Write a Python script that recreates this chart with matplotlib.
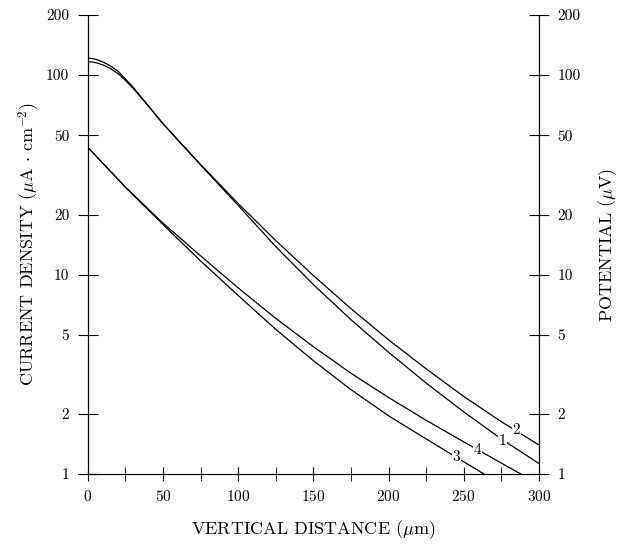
import matplotlib.pyplot as plt
from matplotlib.ticker import FixedLocator, NullFormatter

plt.rcParams["font.family"] = "cmr10"
plt.rcParams["mathtext.fontset"] = "cm"
plt.rcParams["axes.formatter.use_mathtext"] = True

# 곡선 데이터
x1 = [0, 5, 10, 15, 20, 25, 30, 38, 50, 75, 100, 125, 150, 175, 200, 225, 250, 275, 300]
y1 = [122, 120.2, 116.4, 111.2, 104.7, 95.7, 87.1, 73.5, 57.0,
      35.4, 22.2, 13.8, 8.91, 5.94, 4.08, 2.86, 2.05, 1.50, 1.13]
x2 = [0, 5, 10, 15, 20, 25, 30, 38, 50, 75, 100, 125, 150, 175, 200, 225, 250, 275, 300]
y2 = [117, 115.6, 112.5, 107.9, 101.9, 94.0, 85.9, 73.3, 57.0,
      35.6, 22.7, 14.8, 9.89, 6.75, 4.71, 3.37, 2.45, 1.83, 1.40]
x3 = [0, 25, 50, 75, 100, 125, 150, 175, 200, 225, 263.5]
y3 = [43.4, 27.4, 17.8, 11.7, 7.85, 5.31, 3.70, 2.65, 1.96, 1.50, 1.0]
x4 = [0, 25, 50, 75, 100, 125, 150, 175, 200, 225, 250, 288]
y4 = [43.4, 27.4, 18.1, 12.4, 8.57, 6.03, 4.35, 3.20, 2.42, 1.86, 1.45, 1.0]

yticks = [1, 2, 5, 10, 20, 50, 100, 200]
xticks = [0, 50, 100, 150, 200, 250, 300]
curve_labels = ["1", "2", "3", "4"]
label_pos = [(276, 1.47), (285, 1.66), (245, 1.21), (259, 1.31)]

fig = plt.figure(figsize=(6.28, 5.58), dpi=100)
ax = fig.add_axes([0.140, 0.1505, 0.718, 0.8225])

for xs, ys in [(x1, y1), (x2, y2), (x3, y3), (x4, y4)]:
    ax.plot(xs, ys, color="black", lw=0.9)

for t, (px, py) in zip(curve_labels, label_pos):
    ax.text(px, py, t, fontsize=11, ha="center", va="center",
            bbox=dict(facecolor="white", edgecolor="none", pad=0.5))

ax.set_yscale("log")
ax.set_xlim(0, 300)
ax.set_ylim(1, 200)
ax.spines["top"].set_visible(False)

ax.yaxis.set_major_locator(FixedLocator(yticks))
ax.yaxis.set_minor_locator(FixedLocator([]))
ax.set_yticklabels([str(v) for v in yticks])
ax.yaxis.set_minor_formatter(NullFormatter())
ax.set_xticks(xticks)
ax.set_xticks([25, 75, 125, 175, 225, 275], minor=True)
ax.tick_params(axis="y", which="major", direction="inout", length=15, labelsize=11, pad=6)
ax.tick_params(axis="x", which="both", direction="inout", length=10, labelsize=11, pad=6)

ax.set_ylabel(r"CURRENT DENSITY ($\mu$A $\cdot$ cm$^{-2}$)", fontsize=13, labelpad=3)
ax.set_xlabel(r"VERTICAL DISTANCE ($\mu$m)", fontsize=13, labelpad=10)

ax2 = ax.twinx()
ax2.set_yscale("log")
ax2.set_ylim(1, 200)
ax2.spines["top"].set_visible(False)
ax2.yaxis.set_major_locator(FixedLocator(yticks))
ax2.yaxis.set_minor_locator(FixedLocator([]))
ax2.set_yticklabels([str(v) for v in yticks])
ax2.tick_params(axis="y", which="major", direction="inout", length=15, labelsize=11, pad=6)
ax2.set_ylabel(r"POTENTIAL ($\mu$V)", fontsize=13, labelpad=11)

fig.savefig("out.png", dpi=100)
